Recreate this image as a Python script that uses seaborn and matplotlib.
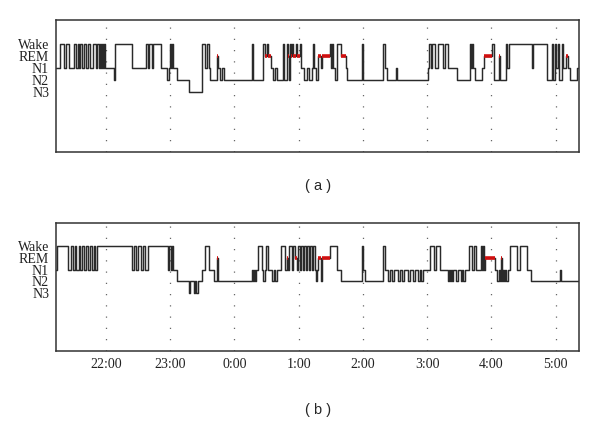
import pandas as pd
import seaborn as sns
import matplotlib.pyplot as plt

# stage codes: W=Wake, R=REM, 1/2/3 = N1/N2/N3
stage_levels = {'W': 5, 'R': 4, '1': 3, '2': 2, '3': 1}
stage_names = ['Wake', 'REM', 'N1', 'N2', 'N3']

# minutes after 21:00 where each stage begins (one line of times per chunk of stages)
night_a_min = [13.5, 17, 20.5, 22.5, 25.5, 30, 32, 34, 35, 35.5, 37.5, 39.5, 41.5, 43, 45, 48,
               50.5, 51.5, 53.5, 54.5, 55.5, 56.5, 57, 58, 59,
               67.5, 68.5, 84.5, 97.5, 99, 100, 103, 104, 111.5,
               117, 119, 120, 120.5, 121.5, 122.5,
               126.5, 137.5, 149.5, 152.5, 154.5, 156.5, 157, 163.5, 164.5, 166.5, 168.5, 170.5,
               196.5, 197.5, 206.5, 208.5, 210.5, 211.5, 214, 216, 218, 220,
               225.5, 226.5, 229, 230, 231, 232, 233, 234, 234.5, 237.5, 238.5, 241.5,
               242, 245, 248, 249.5,
               252.5, 253.5, 254.5, 256.5, 258, 261, 262,
               269.5, 270.5, 271, 272, 274, 276, 279.5, 284.5, 285,
               299.5, 300, 319, 321, 322.5, 331, 332,
               361, 362, 364, 364.5, 367.5, 370.5, 375, 377, 379.5, 388,
               400, 401, 402, 403, 405, 411.5, 413, 420.5, 422.5, 427.5, 428,
               434, 434.5, 436.5, 458, 459, 472,
               477, 478, 479.5, 480.5, 482.5, 483.5, 486, 487, 490, 492, 493.5, 500]
night_a_stage = list('1W1W1W1W1W1W1W1W1W1W1W1W1'
                     '2W1W1W1W1'
                     '21W1W1'
                     '23W1W12R1212'
                     'W2WRWR1212'
                     'W2WR2WRWRWRW'
                     '1212'
                     '1W12R1R'
                     'W1W12WR12'
                     'W2W1212'
                     '1W1W1W1W12'
                     'W1W121RW2R2'
                     'W1W1W2'
                     'W2W1W2W1R121')
night_a_end = 502

night_b_min = [13.5, 14, 24.5, 27.5, 29, 31, 32, 35, 35.5, 37.5, 39.5, 41.5, 43, 45, 47, 49,
               49.5, 51.5,
               84.5, 86, 88, 90, 92.5, 94.5, 96.5, 99,
               118, 119, 120.5, 121.5, 122.5, 126.5,
               137.5, 138.5, 142, 143, 144, 146,
               149.5, 152.5, 156.5, 161, 163.5, 164.5,
               196.5, 197.5, 198.5, 199.5, 200, 202, 206, 206.5, 208.5, 209.5, 211.5, 215, 217,
               218, 220,
               223.5, 227.5, 229, 230, 231, 234, 235, 236.5, 238.5, 239.5, 241.5, 242, 244, 245,
               247, 248, 249.5, 250.5, 252.5, 253.5, 255.5, 256.5, 257, 258, 261, 262,
               269.5, 276, 279.5, 299.5, 300, 302, 319, 321,
               323.5, 325.5, 327.5, 329, 333, 335, 336.5, 338.5, 342, 344, 347, 349, 351.5,
               353.5, 354.5, 356.5,
               363, 366.5, 368.5, 372,
               379.5, 380.5, 381.5, 382.5, 383.5, 384.5, 387, 389, 392, 392.5, 393.5, 395.5,
               399.5, 402, 404, 406, 410.5, 411.5, 412.5, 413.5, 414, 423.5, 425.5,
               427.5, 428, 429, 430, 431, 432, 433, 434, 435.5,
               437.5, 444, 447, 453.5, 457, 484.5, 485]
night_b_stage = list('1W1W1W1W1W1W1W1W1W'
                     '1W1W1W1W'
                     '1W1W12'
                     '323232'
                     '1W12R2'
                     '12121W121W12121'
                     'W1R1W1WR1W1W1W1W1W1W121R2R'
                     'W12W12W1'
                     '2121212121212121'
                     'W1W1'
                     '212121212121'
                     'W1W1W1W1R12'
                     '12R212121'
                     'W1W1212')
night_b_end = 502

hour_ticks = [22, 23, 24, 25, 26, 27, 28, 29]
hour_labels = ['22:00', '23:00', '0:00', '1:00', '2:00', '3:00', '4:00', '5:00']


def make_frame(mins, stages, end):
    t = [21 + m / 60 for m in mins] + [21 + end / 60]
    st = list(stages) + [stages[-1]]
    return pd.DataFrame({'time': t, 'level': [stage_levels[s] for s in st], 'stage': st})


sns.set_style('white')
plt.rcParams['font.family'] = ['Liberation Serif', 'DejaVu Serif']

fig = plt.figure(figsize=(6, 4.25), dpi=100)
ax_a = fig.add_axes([0.0933, 0.642, 0.872, 0.311])
ax_b = fig.add_axes([0.0933, 0.174, 0.872, 0.301])

for ax, mins, stages, end, show_x in [(ax_a, night_a_min, night_a_stage, night_a_end, False),
                                      (ax_b, night_b_min, night_b_stage, night_b_end, True)]:
    df = make_frame(mins, stages, end)
    sns.lineplot(data=df, x='time', y='level', drawstyle='steps-post', estimator=None,
                 sort=False, color='#2a2a2a', linewidth=1.05, ax=ax)
    # REM periods in red
    nxt = df['time'].shift(-1)
    is_rem = (df['stage'] == 'R') & nxt.notna()
    ax.hlines([4] * int(is_rem.sum()), df['time'][is_rem], nxt[is_rem],
              color='#d01010', linewidth=2.6, zorder=3)

    ax.set_xlim(21 + 13.3 / 60, 21 + 502 / 60)
    ax.set_ylim(-4, 7)
    ax.set_xticks(hour_ticks)
    ax.set_xticklabels(hour_labels if show_x else [])
    ax.set_yticks([5, 4, 3, 2, 1])
    ax.set_yticklabels(stage_names)
    ax.tick_params(length=0, labelsize=10, colors='#222222', pad=5)
    ax.set_xlabel('')
    ax.set_ylabel('')
    ax.grid(axis='x', linestyle=(0, (1, 8)), color='#666666', linewidth=0.9)
    ax.grid(axis='y', visible=False)
    for sp in ax.spines.values():
        sp.set_color('#333333')
        sp.set_linewidth(1.1)

fig.text(0.53, 0.562, '( a )', ha='center', va='center', fontsize=10.5, family='Liberation Sans')
fig.text(0.53, 0.035, '( b )', ha='center', va='center', fontsize=10.5, family='Liberation Sans')

fig.savefig('out.png', dpi=100)
